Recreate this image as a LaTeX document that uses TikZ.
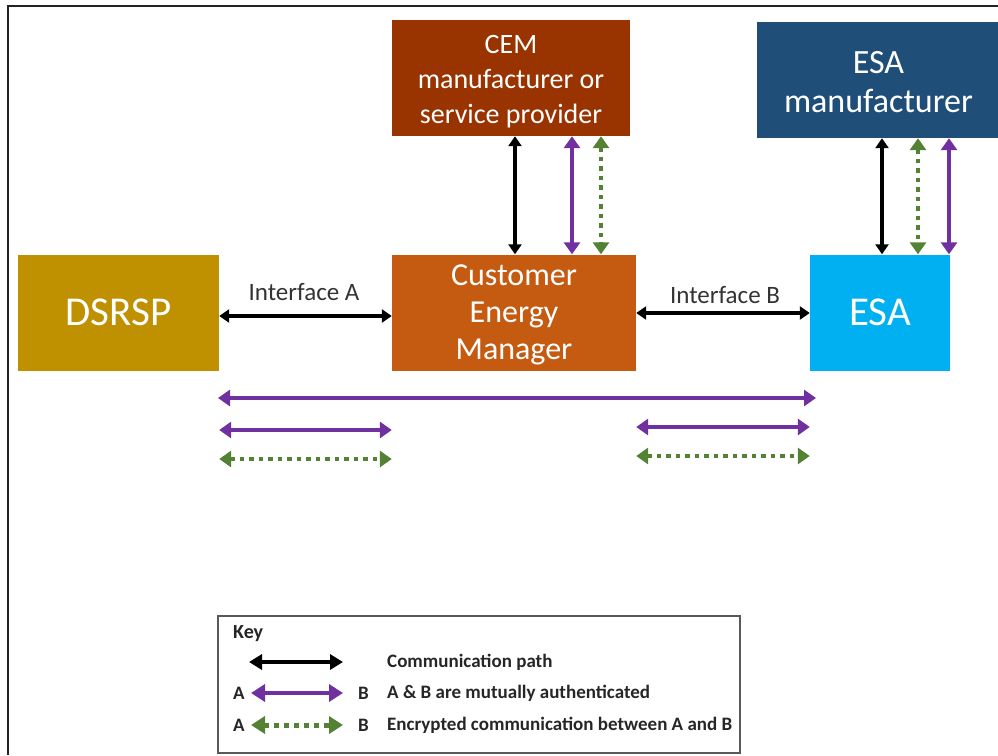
\documentclass[tikz,border=0pt]{standalone}
\usepackage{fontspec}
\setmainfont{Carlito}
\usetikzlibrary{arrows.meta,calc}
\definecolor{cgold}{HTML}{BF9000}
\definecolor{corange}{HTML}{C55A11}
\definecolor{cblue}{HTML}{00B0F0}
\definecolor{cbrown}{HTML}{993300}
\definecolor{cnavy}{HTML}{1F4E79}
\definecolor{cpurple}{HTML}{7030A0}
\definecolor{cgreen}{HTML}{548235}
\definecolor{cframe}{HTML}{222222}
\definecolor{ckey}{HTML}{595959}
\begin{document}
\begin{tikzpicture}[x=1pt,y=-1pt,
  box/.style={rectangle, inner sep=0pt, text=white, align=center},
  boxtxt/.style={inner sep=0pt, text=white, align=center},
  blkarrow/.style={draw=black, line width=3.2pt, {Triangle[length=10pt,width=13pt]}-{Triangle[length=10pt,width=13pt]}},
  purarrow/.style={draw=cpurple, line width=4pt, {Triangle[length=12pt,width=16pt]}-{Triangle[length=12pt,width=16pt]}},
  grnarrow/.style={draw=cgreen, line width=4.5pt, dash pattern=on 4.5pt off 5pt, {Triangle[length=12pt,width=16pt]}-{Triangle[length=12pt,width=16pt]}},
  lbl/.style={font=\fontsize{25}{30}\selectfont, text=black!80},
  keytxt/.style={font=\bfseries\fontsize{19}{23}\selectfont, text=black!85, anchor=west, inner sep=0pt}
]
\useasboundingbox (0,0) rectangle (998,755);
% outer frame
\draw[cframe, line width=2pt] (8,755) -- (8,6) -- (998,6);

% boxes
\node[box, fill=cgold, minimum width=201pt, minimum height=116pt, font=\fontsize{41}{48}\selectfont] (dsrsp) at (118.5,312.5) {DSRSP};
\node[box, fill=corange, minimum width=244pt, minimum height=116pt] (cem) at (514,312.5) {};
\node[boxtxt, font=\fontsize{32}{37}\selectfont] (cemt) at ($(cem.center)+(0,2)$) {Customer\\Energy\\Manager};
\node[box, fill=cblue, minimum width=140pt, minimum height=116pt, font=\fontsize{41}{48}\selectfont] (esa) at (880,312.5) {ESA};
\node[box, fill=cbrown, minimum width=238pt, minimum height=116pt] (cemm) at (511,78) {};
\node[boxtxt, font=\fontsize{28}{35}\selectfont] (cemmt) at ($(cemm.center)+(0,4)$) {CEM\\manufacturer or\\service provider};
\node[box, fill=cnavy, minimum width=243pt, minimum height=116pt] (esam) at (878.5,80) {};
\node[boxtxt, font=\fontsize{34}{39}\selectfont] (esamt) at ($(esam.center)+(0,2)$) {ESA\\manufacturer};

% vertical arrows CEM manufacturer <-> CEM
\draw[blkarrow] (cemm.south -| 515,0) -- (cem.north -| 515,0);
\draw[purarrow] (cemm.south -| 572,0) -- (cem.north -| 572,0);
\draw[grnarrow] (cemm.south -| 601,0) -- (cem.north -| 601,0);

% vertical arrows ESA manufacturer <-> ESA
\draw[blkarrow] (esam.south -| 882,0) -- (esa.north -| 882,0);
\draw[grnarrow] (esam.south -| 918,0) -- (esa.north -| 918,0);
\draw[purarrow] (esam.south -| 949,0) -- (esa.north -| 949,0);

% interfaces
\draw[blkarrow] (dsrsp.east |- 0,316) -- (cem.west |- 0,316);
\node[lbl] (ifa) at (304,292) {Interface A};
\draw[blkarrow] (cem.east |- 0,313) -- (esa.west |- 0,313);
\node[lbl] (ifb) at (725,295) {Interface B};

% lower arrows
\coordinate (l1) at (218,398);
\coordinate (r1) at (816,398);
\draw[purarrow] (l1) -- (r1);
\draw[purarrow] (dsrsp.east |- 0,430) -- (cem.west |- 0,430);
\draw[grnarrow] (dsrsp.east |- 0,459) -- (cem.west |- 0,459);
\draw[purarrow] (cem.east |- 0,427) -- (esa.west |- 0,427);
\draw[grnarrow] (cem.east |- 0,456) -- (esa.west |- 0,456);

% key
\node[draw=ckey, line width=1.5pt, minimum width=522pt, minimum height=137pt, inner sep=0pt] (keybox) at (479,684.5) {};
\node[keytxt, font=\bfseries\fontsize{20}{24}\selectfont] (keyt) at (233,634) {Key};
\coordinate (k1a) at (249,662);
\coordinate (k1b) at (343,662);
\draw[draw=black, line width=4pt, {Triangle[length=13pt,width=15pt]}-{Triangle[length=13pt,width=15pt]}] (k1a) -- (k1b);
\node[keytxt] (k1t) at (387,662) {Communication path};
\node[keytxt] (k2a) at (233,693) {A};
\coordinate (k2l) at (251,693);
\coordinate (k2r) at (343,693);
\draw[purarrow, line width=4.5pt, {Triangle[length=14pt,width=17pt]}-{Triangle[length=14pt,width=17pt]}] (k2l) -- (k2r);
\node[keytxt] (k2b) at (358,693) {B};
\node[keytxt] (k2t) at (387,693) {A \& B are mutually authenticated};
\node[keytxt] (k3a) at (233,725) {A};
\coordinate (k3l) at (251,725);
\coordinate (k3r) at (343,725);
\draw[grnarrow, line width=5pt, dash pattern=on 5pt off 5pt, {Triangle[length=14pt,width=17pt]}-{Triangle[length=14pt,width=17pt]}] (k3l) -- (k3r);
\node[keytxt] (k3b) at (358,725) {B};
\node[keytxt] (k3t) at (387,725) {Encrypted communication between A and B};
\end{tikzpicture}
\end{document}
